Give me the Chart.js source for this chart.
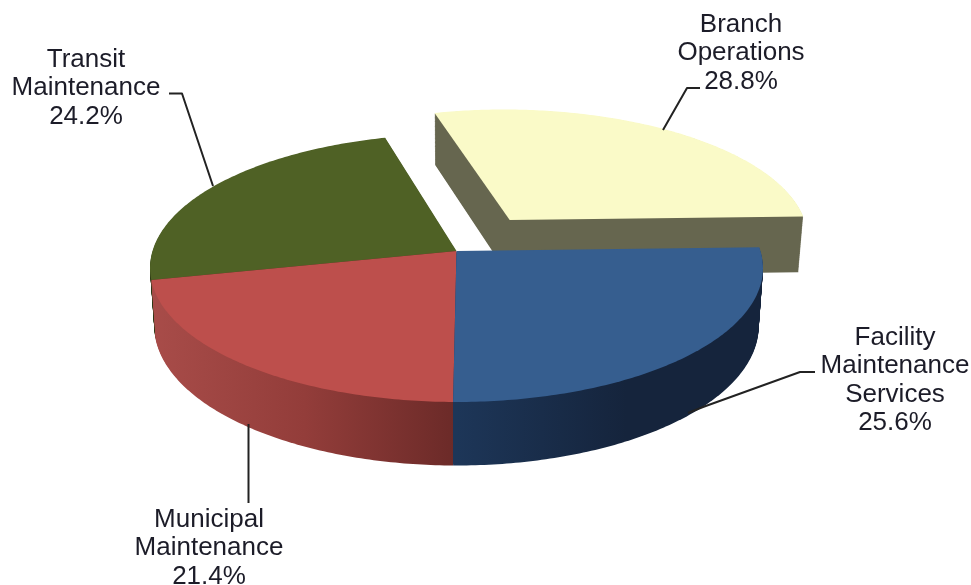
<!DOCTYPE html>
<html>
<head>
<meta charset="utf-8">
<title>Division share of total</title>
<style>
  html, body { margin: 0; padding: 0; background: #ffffff; }
  canvas { display: block; }
</style>
<script src="https://cdn.jsdelivr.net/npm/chart.js@4"></script>
</head>
<body>
<canvas id="pie" width="971" height="585"></canvas>
<script>
// Divisions, clockwise from the right-hand edge of the pie.
const divisionNames = [
  ['Facility', 'Maintenance', 'Services'],
  ['Municipal', 'Maintenance'],
  ['Transit', 'Maintenance'],
  ['Branch', 'Operations']
];
const divisionShares = [25.6, 21.4, 24.2, 28.8];

const topColors = ['#365e8f', '#bd4f4c', '#4f6125', '#fafac8'];
const wallColors = [
  ['#1d3658', '#15243c'],
  ['#a84c49', '#933d3a', '#6b2a28'],
  ['#2b3613', '#2b3613'],
  ['#66664f', '#66664f']
];
const explodedOffsets = [0, 0, 0, 66];

// Tilted-disc projection of the pie plane, with the near rim enlarged.
const view = { rx: 304, ry: 131.8, near: 0.127, drop: 57.3, shrink: 0.014, layers: 64 };

// Where each callout's text sits and how its leader line runs.
const callouts = [
  { x: 895, y: 345, line: [[815, 372], [800, 372], [703, 407], [688, 413]] },
  { x: 209, y: 527, line: [[248.5, 424], [248.5, 503]] },
  { x: 86, y: 67, line: [[169, 93.5], [182, 93.5], [213, 186]] },
  { x: 741, y: 32, line: [[700, 88], [687, 88], [663, 130]] }
];
const labelFont = '26px "Liberation Sans", Arial, sans-serif';
const labelLeading = 28.4;

function project(cx, cy, u, v, depth) {
  const w = 1 - view.near * v;
  const s = 1 - view.shrink * depth;
  return [
    cx + (view.rx * u / w) * s,
    cy + (view.ry * v / w) * s + depth * view.drop / w
  ];
}

// Outline of one slice in plane units, from the library's own arc geometry.
function sliceOutline(arc, offset) {
  const p = arc.getProps(['startAngle', 'endAngle', 'outerRadius']);
  const mid = (p.startAngle + p.endAngle) / 2;
  const ox = offset / p.outerRadius * Math.cos(mid);
  const oy = offset / p.outerRadius * Math.sin(mid);
  const pts = [[ox, oy]];
  const steps = Math.ceil((p.endAngle - p.startAngle) / (Math.PI / 240));
  for (let i = 0; i <= steps; i++) {
    const a = p.startAngle + (p.endAngle - p.startAngle) * i / steps;
    pts.push([ox + Math.cos(a), oy + Math.sin(a)]);
  }
  return pts;
}

function fillOutline(ctx, cx, cy, outline, depth) {
  ctx.beginPath();
  outline.forEach(([u, v], i) => {
    const [x, y] = project(cx, cy, u, v, depth);
    if (i === 0) ctx.moveTo(x, y); else ctx.lineTo(x, y);
  });
  ctx.closePath();
  ctx.fill();
}

const tiltedPie = {
  id: 'tiltedPie',
  beforeDatasetDraw(chart, args) {
    const ctx = chart.ctx;
    const arcs = args.meta.data;
    const cx = arcs[0].x;
    const cy = arcs[0].y;
    const outlines = arcs.map((arc, i) => sliceOutline(arc, explodedOffsets[i]));
    ctx.save();
    // Side walls go down first, back slices before near ones; top faces follow.
    for (let i = arcs.length - 1; i >= 0; i--) {
      const stops = wallColors[i];
      const shade = i === 0
        ? ctx.createLinearGradient(cx, 0, cx + 170, 0)
        : ctx.createLinearGradient(cx - view.rx, 0, cx, 0);
      stops.forEach((c, n) => shade.addColorStop(n / (stops.length - 1), c));
      ctx.fillStyle = shade;
      for (let l = view.layers; l > 0; l--) {
        fillOutline(ctx, cx, cy, outlines[i], l / view.layers);
      }
    }
    for (let i = arcs.length - 1; i >= 0; i--) {
      ctx.fillStyle = topColors[i];
      fillOutline(ctx, cx, cy, outlines[i], 0);
    }
    ctx.restore();
    return false;
  },
  afterDraw(chart) {
    const ctx = chart.ctx;
    ctx.save();
    ctx.strokeStyle = '#222222';
    ctx.lineWidth = 2;
    ctx.lineJoin = 'round';
    callouts.forEach(({ line }) => {
      ctx.beginPath();
      line.forEach(([x, y], i) => (i ? ctx.lineTo(x, y) : ctx.moveTo(x, y)));
      ctx.stroke();
    });
    ctx.fillStyle = '#1c1c28';
    ctx.font = labelFont;
    ctx.textAlign = 'center';
    ctx.textBaseline = 'alphabetic';
    callouts.forEach(({ x, y }, i) => {
      const rows = [...divisionNames[i], divisionShares[i].toFixed(1) + '%'];
      rows.forEach((row, r) => ctx.fillText(row, x, y + r * labelLeading));
    });
    ctx.restore();
  }
};

new Chart(document.getElementById('pie'), {
  type: 'pie',
  data: {
    labels: divisionNames.map(n => n.join(' ')),
    datasets: [{
      data: divisionShares,
      backgroundColor: topColors,
      borderWidth: 0,
      offset: explodedOffsets
    }]
  },
  options: {
    responsive: false,
    animation: false,
    devicePixelRatio: 1,
    rotation: 88.4,
    layout: { padding: { right: 58, bottom: 83 } },
    plugins: { legend: { display: false }, tooltip: { enabled: false } }
  },
  plugins: [tiltedPie]
});
</script>
</body>
</html>
